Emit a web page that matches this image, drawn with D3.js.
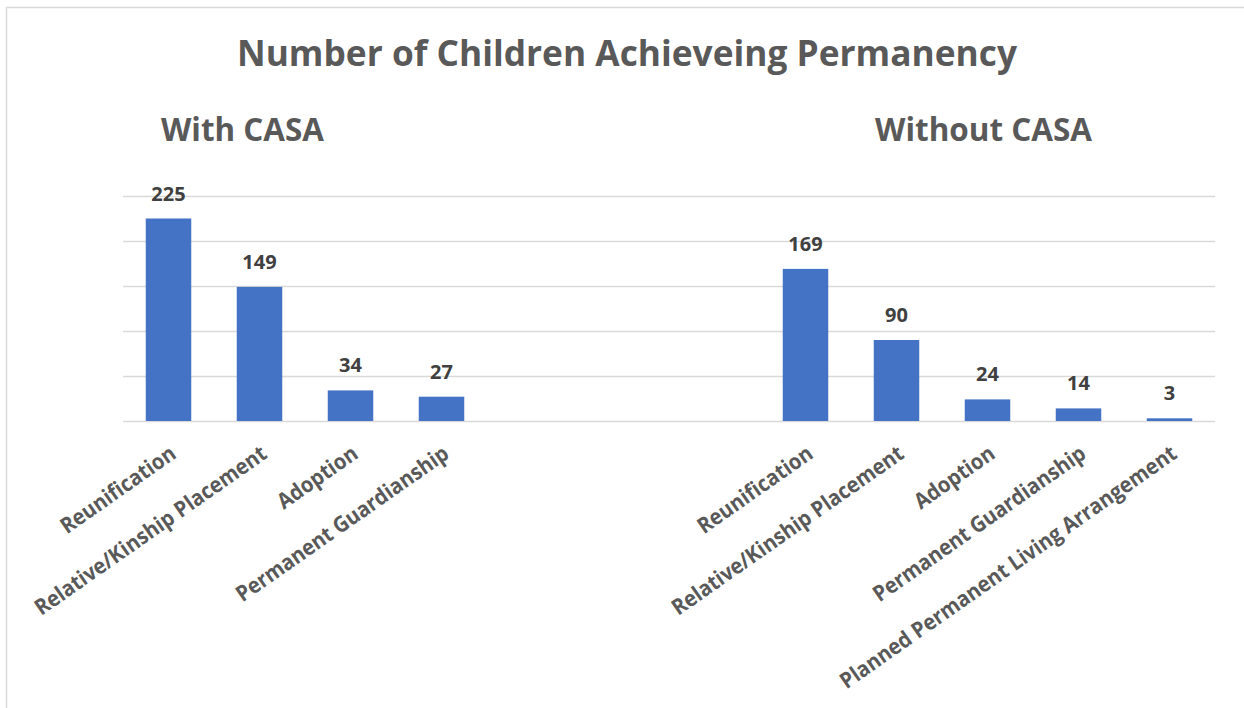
<!DOCTYPE html>
<html>
<head>
<meta charset="utf-8">
<script src="https://cdn.jsdelivr.net/npm/d3@7"></script>
<style>
  html, body { margin: 0; padding: 0; background: #fff; }
  svg { display: block; font-family: "Open Sans", "Noto Sans", sans-serif; }
</style>
</head>
<body>
<div id="chart"></div>
<script>
// values
const withCats = ["Reunification", "Relative/Kinship Placement", "Adoption", "Permanent Guardianship"];
const withVals = [225, 149, 34, 27];
const withoutCats = ["Reunification", "Relative/Kinship Placement", "Adoption", "Permanent Guardianship", "Planned Permanent Living Arrangement"];
const withoutVals = [169, 90, 24, 14, 3];
const yTicks = [0, 50, 100, 150, 200, 250];

const width = 1244, height = 708;
const margin = { left: 123, right: 29, top: 196, bottom: 287 };

const svg = d3.select("#chart")
  .append("svg")
  .attr("width", width)
  .attr("height", height);

// chart frame (only top and left edges fall inside the picture)
svg.append("rect")
  .attr("x", 6.5).attr("y", 7.5)
  .attr("width", 1400).attr("height", 900)
  .attr("fill", "none")
  .attr("stroke", "#d9d9d9")
  .attr("stroke-width", 1.5);

// one slot per category, with three empty slots between the groups
const rows = [];
withCats.forEach((c, i) => rows.push({ key: "w" + i, label: c, value: withVals[i] }));
["g0", "g1", "g2"].forEach(k => rows.push({ key: k, label: "", value: null }));
withoutCats.forEach((c, i) => rows.push({ key: "o" + i, label: c, value: withoutVals[i] }));

const x = d3.scaleBand()
  .domain(rows.map(d => d.key))
  .range([margin.left, width - margin.right])
  .paddingInner(0.5)
  .paddingOuter(0.25);

const y = d3.scaleLinear()
  .domain([0, 250])
  .range([height - margin.bottom, margin.top]);

// gridlines
const grid = svg.append("g")
  .attr("transform", `translate(${margin.left},0)`)
  .call(d3.axisLeft(y).tickValues(yTicks).tickSize(-(width - margin.left - margin.right)).tickFormat(""));
grid.select(".domain").remove();
grid.selectAll(".tick line").attr("stroke", "#d9d9d9").attr("stroke-width", 1.6);

// bars
svg.append("g")
  .selectAll("rect")
  .data(rows.filter(d => d.value !== null))
  .join("rect")
  .attr("x", d => x(d.key))
  .attr("y", d => y(d.value))
  .attr("width", x.bandwidth())
  .attr("height", d => y(0) - y(d.value))
  .attr("fill", "#4472c4");

// value labels
svg.append("g")
  .selectAll("text")
  .data(rows.filter(d => d.value !== null))
  .join("text")
  .attr("x", d => x(d.key) + x.bandwidth() / 2)
  .attr("y", d => y(d.value) - 18)
  .attr("text-anchor", "middle")
  .attr("font-size", "20px")
  .attr("font-weight", "bold")
  .attr("fill", "#404040")
  .text(d => d.value);

// category axis
const labelByKey = new Map(rows.map(d => [d.key, d.label]));
const xAxis = svg.append("g")
  .attr("transform", `translate(0,${y(0)})`)
  .call(d3.axisBottom(x).tickSize(0).tickFormat(k => labelByKey.get(k)));
xAxis.select(".domain").remove();
xAxis.selectAll("text")
  .attr("font-family", "\"Open Sans\", sans-serif")
  .attr("font-size", "18.5px")
  .attr("font-weight", "bold")
  .attr("fill", "#595959")
  .attr("text-anchor", "end")
  .attr("dy", null)
  .attr("y", 0)
  .attr("transform", "translate(9,36) rotate(-35)")
  .each(function () {
    // the reference face is narrower and taller: grow the glyphs, stretch the run a little
    const len = this.getComputedTextLength();
    if (len > 0) {
      d3.select(this)
        .attr("font-size", "22px")
        .attr("textLength", len * 1.09)
        .attr("lengthAdjust", "spacingAndGlyphs");
    }
  });

// titles
svg.append("text")
  .attr("x", 627).attr("y", 66)
  .attr("text-anchor", "middle")
  .attr("font-size", "35px")
  .attr("font-weight", "bold")
  .attr("fill", "#595959")
  .attr("textLength", 780)
  .attr("lengthAdjust", "spacingAndGlyphs")
  .text("Number of Children Achieveing Permanency");

svg.append("text")
  .attr("x", 161).attr("y", 141)
  .attr("font-size", "33px")
  .attr("font-weight", "bold")
  .attr("fill", "#595959")
  .attr("textLength", 163)
  .attr("lengthAdjust", "spacingAndGlyphs")
  .text("With CASA");

svg.append("text")
  .attr("x", 875).attr("y", 141)
  .attr("font-size", "33px")
  .attr("font-weight", "bold")
  .attr("fill", "#595959")
  .attr("textLength", 217)
  .attr("lengthAdjust", "spacingAndGlyphs")
  .text("Without CASA");
</script>
</body>
</html>
